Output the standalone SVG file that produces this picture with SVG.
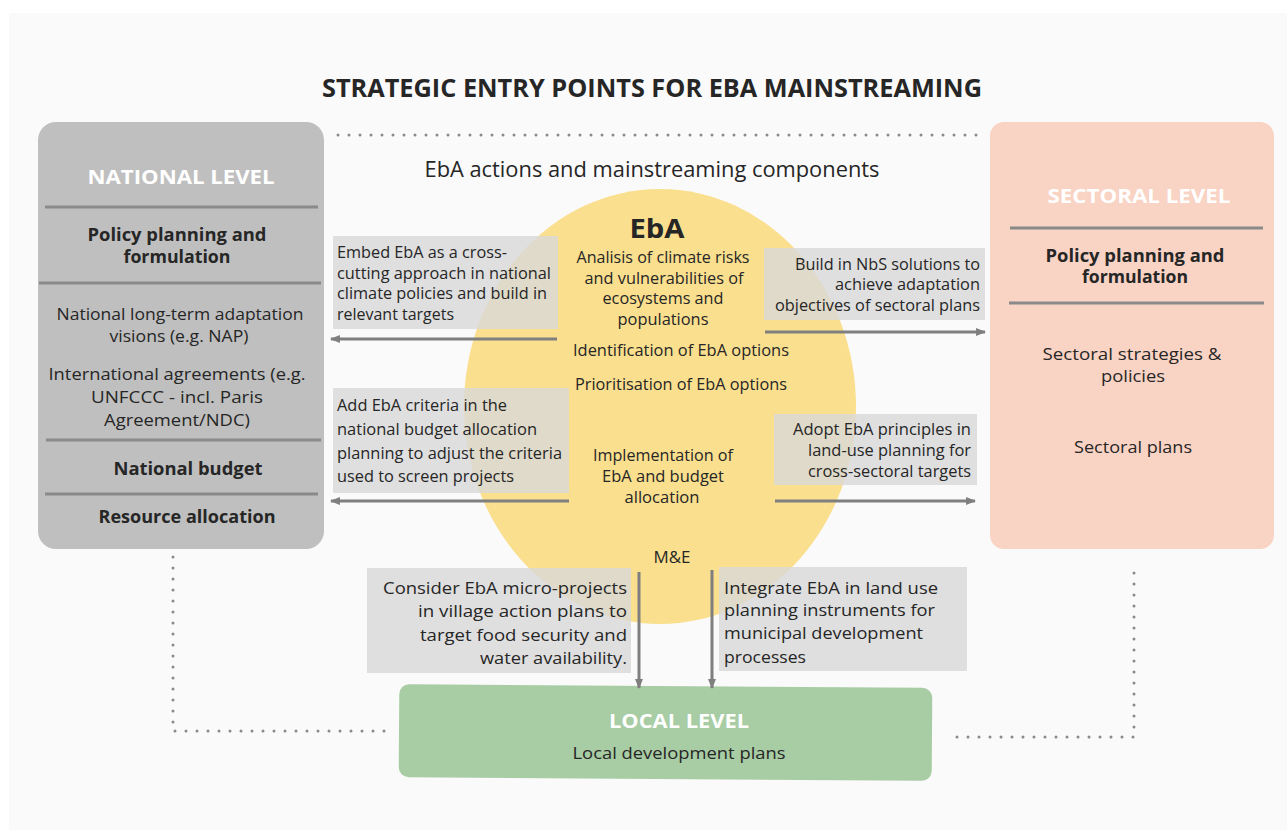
<svg xmlns="http://www.w3.org/2000/svg" width="1287" height="830" viewBox="0 0 1287 830">
<defs>
<marker id="ah" viewBox="0 0 10 8" refX="9" refY="4" markerWidth="3.3" markerHeight="2.7" orient="auto" markerUnits="strokeWidth">
<path d="M0,0 L10,4 L0,8 Z" fill="#7f7f7f"/>
</marker>
<style>
text{font-family:"Open Sans","Noto Sans","DejaVu Sans",sans-serif;fill:#262626;}
.b{font-weight:bold;}
.h{font-weight:bold;fill:#ffffff;font-size:20px;}
.n{font-size:17px;}
.l{font-size:15.5px;}
.m{font-size:17px;}
.c{text-anchor:middle;}
.r{text-anchor:end;}
.sep{stroke:#8a8a8a;stroke-width:3;}
.dot{fill:none;stroke:#8a8a8a;stroke-width:3;stroke-linecap:round;stroke-dasharray:0 11;}
.lab{fill:#d8d8d8;fill-opacity:0.8;}
.arr{stroke:#7f7f7f;stroke-width:3;fill:none;marker-end:url(#ah);}
</style>
</defs>
<rect x="0" y="0" width="1287" height="830" fill="#ffffff"/>
<rect x="9" y="13" width="1278" height="817" fill="#fafafa"/>

<text class="b c" x="652" y="97" font-size="25" textLength="660" lengthAdjust="spacingAndGlyphs">STRATEGIC ENTRY POINTS FOR EBA MAINSTREAMING</text>

<g id="dotted">
<path class="dot" d="M338,135 H978"/>
<path class="dot" d="M173,557 V731 H393"/>
<path class="dot" d="M1134,573 V737 H946"/>
</g>

<g id="national">
<rect x="38" y="122" width="286" height="427" rx="18" fill="#bfbfbf"/>
<text class="h c" x="181" y="184" textLength="187" lengthAdjust="spacingAndGlyphs">NATIONAL LEVEL</text>
<line class="sep" x1="45" y1="207" x2="318" y2="207"/>
<text class="n b c" x="177" y="241" textLength="179" lengthAdjust="spacingAndGlyphs">Policy planning and</text>
<text class="n b c" x="177" y="263" textLength="107" lengthAdjust="spacingAndGlyphs">formulation</text>
<line class="sep" x1="39" y1="283" x2="321" y2="283"/>
<text class="n c" x="180" y="320" textLength="247" lengthAdjust="spacingAndGlyphs">National long-term adaptation</text>
<text class="n c" x="179" y="342" textLength="139" lengthAdjust="spacingAndGlyphs">visions (e.g. NAP)</text>
<text class="n c" x="177" y="380" textLength="257" lengthAdjust="spacingAndGlyphs">International agreements (e.g.</text>
<text class="n c" x="177" y="403" textLength="172" lengthAdjust="spacingAndGlyphs">UNFCCC - incl. Paris</text>
<text class="n c" x="177" y="426" textLength="146" lengthAdjust="spacingAndGlyphs">Agreement/NDC)</text>
<line class="sep" x1="46" y1="440" x2="321" y2="440"/>
<text class="n b c" x="188" y="475" textLength="149" lengthAdjust="spacingAndGlyphs">National budget</text>
<line class="sep" x1="45" y1="494" x2="318" y2="494"/>
<text class="n b c" x="187" y="523" textLength="177" lengthAdjust="spacingAndGlyphs">Resource allocation</text>
</g>

<g id="sectoral">
<rect x="990" y="122" width="284" height="427" rx="14" fill="#f9d3c4"/>
<text class="h c" x="1139" y="203" textLength="183" lengthAdjust="spacingAndGlyphs">SECTORAL LEVEL</text>
<line class="sep" x1="1010" y1="228" x2="1263" y2="228"/>
<text class="n b c" x="1135" y="262" textLength="179" lengthAdjust="spacingAndGlyphs">Policy planning and</text>
<text class="n b c" x="1135" y="283" textLength="106" lengthAdjust="spacingAndGlyphs">formulation</text>
<line class="sep" x1="1009" y1="303" x2="1264" y2="303"/>
<text class="n c" x="1132" y="360" textLength="179" lengthAdjust="spacingAndGlyphs">Sectoral strategies &amp;</text>
<text class="n c" x="1133" y="382" textLength="64" lengthAdjust="spacingAndGlyphs">policies</text>
<text class="n c" x="1133" y="453" textLength="118" lengthAdjust="spacingAndGlyphs">Sectoral plans</text>
</g>

<g id="eba">
<text class="c" x="652" y="177" font-size="21" textLength="455" lengthAdjust="spacingAndGlyphs">EbA actions and mainstreaming components</text>
<ellipse cx="660" cy="406.5" rx="196" ry="217.5" fill="#fadf8e"/>
<text class="b c" x="657" y="238" font-size="27" textLength="55" lengthAdjust="spacingAndGlyphs">EbA</text>
<text class="l c" x="663" y="263" textLength="173" lengthAdjust="spacingAndGlyphs">Analisis of climate risks</text>
<text class="l c" x="664" y="284" textLength="159" lengthAdjust="spacingAndGlyphs">and vulnerabilities of</text>
<text class="l c" x="663" y="304" textLength="121" lengthAdjust="spacingAndGlyphs">ecosystems and</text>
<text class="l c" x="663" y="325" textLength="91" lengthAdjust="spacingAndGlyphs">populations</text>
<text class="l c" x="681" y="356" textLength="216" lengthAdjust="spacingAndGlyphs">Identification of EbA options</text>
<text class="l c" x="681" y="390" textLength="212" lengthAdjust="spacingAndGlyphs">Prioritisation of EbA options</text>
<text class="l c" x="663" y="461" textLength="140" lengthAdjust="spacingAndGlyphs">Implementation of</text>
<text class="l c" x="663" y="482" textLength="122" lengthAdjust="spacingAndGlyphs">EbA and budget</text>
<text class="l c" x="662" y="503" textLength="75" lengthAdjust="spacingAndGlyphs">allocation</text>
<text class="l c" x="672" y="563" textLength="37" lengthAdjust="spacingAndGlyphs">M&amp;E</text>
</g>

<g id="local">
<g transform="rotate(0.4 665 733)">
<rect x="399" y="686" width="533" height="93" rx="10" fill="#a8cca4"/>
</g>
<text class="h c" x="679" y="728" textLength="140" lengthAdjust="spacingAndGlyphs">LOCAL LEVEL</text>
<text class="m c" x="679" y="759" textLength="213" lengthAdjust="spacingAndGlyphs">Local development plans</text>
</g>

<g id="label-embed">
<rect class="lab" x="333" y="236" width="225" height="93"/>
<text class="l" x="337" y="258" textLength="170" lengthAdjust="spacingAndGlyphs">Embed EbA as a cross-</text>
<text class="l" x="337" y="279" textLength="214" lengthAdjust="spacingAndGlyphs">cutting approach in national</text>
<text class="l" x="337" y="299" textLength="210" lengthAdjust="spacingAndGlyphs">climate policies and build in</text>
<text class="l" x="337" y="320" textLength="117" lengthAdjust="spacingAndGlyphs">relevant targets</text>
</g>
<g id="label-criteria">
<rect class="lab" x="333" y="388" width="236" height="105"/>
<text class="l" x="337" y="411" textLength="170" lengthAdjust="spacingAndGlyphs">Add EbA criteria in the</text>
<text class="l" x="337" y="435" textLength="200" lengthAdjust="spacingAndGlyphs">national budget allocation</text>
<text class="l" x="337" y="459" textLength="225" lengthAdjust="spacingAndGlyphs">planning to adjust the criteria</text>
<text class="l" x="337" y="482" textLength="177" lengthAdjust="spacingAndGlyphs">used to screen projects</text>
</g>
<g id="label-nbs">
<rect class="lab" x="764" y="248" width="221" height="72"/>
<text class="l r" x="980" y="270" textLength="185" lengthAdjust="spacingAndGlyphs">Build in NbS solutions to</text>
<text class="l r" x="980" y="290" textLength="145" lengthAdjust="spacingAndGlyphs">achieve adaptation</text>
<text class="l r" x="980" y="311" textLength="205" lengthAdjust="spacingAndGlyphs">objectives of sectoral plans</text>
</g>
<g id="label-landuse">
<rect class="lab" x="774" y="414" width="203" height="71"/>
<text class="l r" x="971" y="435" textLength="178" lengthAdjust="spacingAndGlyphs">Adopt EbA principles in</text>
<text class="l r" x="971" y="456" textLength="163" lengthAdjust="spacingAndGlyphs">land-use planning for</text>
<text class="l r" x="971" y="477" textLength="163" lengthAdjust="spacingAndGlyphs">cross-sectoral targets</text>
</g>
<g id="label-village">
<rect class="lab" x="367" y="568" width="264" height="105"/>
<text class="m r" x="627" y="594" textLength="244" lengthAdjust="spacingAndGlyphs">Consider EbA micro-projects</text>
<text class="m r" x="627" y="617" textLength="209" lengthAdjust="spacingAndGlyphs">in village action plans to</text>
<text class="m r" x="627" y="641" textLength="207" lengthAdjust="spacingAndGlyphs">target food security and</text>
<text class="m r" x="627" y="664" textLength="147" lengthAdjust="spacingAndGlyphs">water availability.</text>
</g>
<g id="label-municipal">
<rect class="lab" x="719" y="567" width="248" height="104"/>
<text class="m" x="724" y="594" textLength="214" lengthAdjust="spacingAndGlyphs">Integrate EbA in land use</text>
<text class="m" x="724" y="616" textLength="211" lengthAdjust="spacingAndGlyphs">planning instruments for</text>
<text class="m" x="724" y="639" textLength="199" lengthAdjust="spacingAndGlyphs">municipal development</text>
<text class="m" x="724" y="663" textLength="82" lengthAdjust="spacingAndGlyphs">processes</text>
</g>

<g id="connectors">
<line class="arr" x1="557" y1="339" x2="331" y2="339"/>
<line class="arr" x1="569" y1="501" x2="331" y2="501"/>
<line class="arr" x1="765" y1="332" x2="985" y2="332"/>
<line class="arr" x1="775" y1="501" x2="975" y2="501"/>
<line class="arr" x1="639" y1="572" x2="639" y2="688"/>
<line class="arr" x1="712" y1="570" x2="712" y2="688"/>
</g>
</svg>
